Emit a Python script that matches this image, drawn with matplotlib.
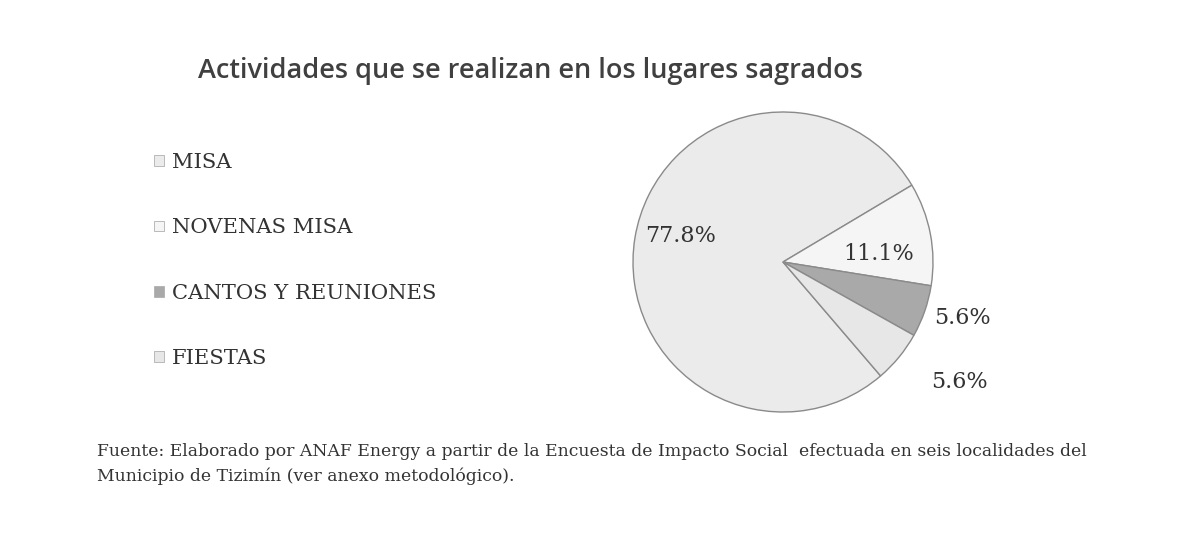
import matplotlib.pyplot as plt

# Activities at sacred sites (percent of responses)
activities = ['MISA', 'NOVENAS MISA', 'CANTOS Y REUNIONES', 'FIESTAS']
shares = [77.8, 11.1, 5.6, 5.6]
colors = ['#ebebeb', '#f5f5f5', '#a9a9a9', '#e7e7e7']

title = 'Actividades que se realizan en los lugares sagrados'
source = ('Fuente: Elaborado por ANAF Energy a partir de la Encuesta de Impacto Social  '
          'efectuada en seis localidades del\nMunicipio de Tizimín (ver anexo metodológico).')

W, H = 1189, 546
fig = plt.figure(figsize=(W / 100, H / 100), dpi=100)
fig.patch.set_facecolor('white')

# pie centred at (783, 262) px, radius 150 px
cx, cy, r = 783, 262, 150
ax = fig.add_axes([(cx - r) / W, (H - cy - r) / H, 2 * r / W, 2 * r / H])
wedges, _ = ax.pie(shares, colors=colors, startangle=-49.4, counterclock=False,
                   wedgeprops=dict(edgecolor='#8a8a8a', linewidth=1.0))
ax.set_xlim(-1, 1)
ax.set_ylim(-1, 1)
ax.set_aspect('equal')
ax.axis('off')

# percentage labels
label_pos = [(-0.68, 0.17), (0.64, 0.05), (1.01, -0.37), (0.99, -0.80)]
for v, (x, y) in zip(shares, label_pos):
    ax.text(x, y, f'{v:.1f}%', ha='left' if x > 0.9 else 'center', va='center',
            fontsize=16, family='DejaVu Serif', color='#333333')

fig.text(530 / W, 1 - 71 / H, title, ha='center', va='center',
         fontsize=19.5, family='Open Sans', fontweight='semibold', color='#404040')

leg = fig.legend(wedges, activities, loc='upper left', bbox_to_anchor=(135 / W, 1 - 134 / H),
                 frameon=False, handlelength=0.45, handleheight=0.4, handletextpad=0.4,
                 labelspacing=2.2, prop=dict(family='DejaVu Serif', size=15.2))
for t in leg.get_texts():
    t.set_color('#333333')
for h in leg.legend_handles:
    h.set_edgecolor('#b0b0b0')
    h.set_linewidth(0.6)

fig.text(97 / W, 1 - 443 / H, source, ha='left', va='top', linespacing=1.55,
         fontsize=12.4, family='DejaVu Serif', color='#333333')

fig.savefig('out.png', dpi=100, facecolor='white')
